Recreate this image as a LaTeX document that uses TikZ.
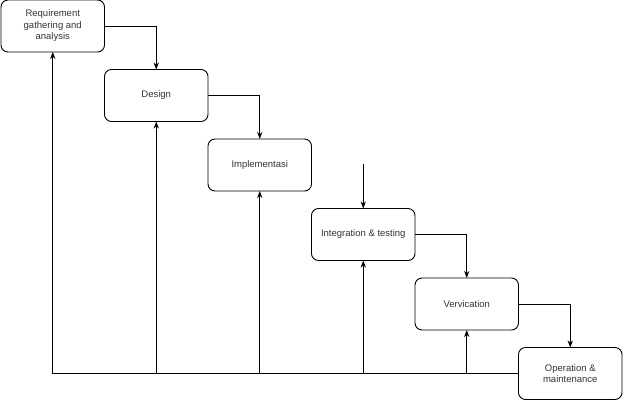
\documentclass[tikz,border=0pt]{standalone}
\usepackage{fontspec}
\setmainfont{Liberation Sans}
\usetikzlibrary{arrows.meta,positioning}

\begin{document}
\begin{tikzpicture}[>=Stealth, x=1pt, y=1pt,
    phase/.style={draw, line width=0.9pt, rounded corners=7pt, outer sep=0pt,
      minimum width=103.5pt, minimum height=52pt, inner sep=2pt,
      align=center, text=black!80, font=\fontsize{9.5}{11.5}\selectfont},
    flow/.style={->, line width=0.9pt}]
    \useasboundingbox (0,0) rectangle (624,-400);

    % phases, stepping down to the right
    \node[phase, anchor=north west] (req) at (1,0) {Requirement\\gathering and\\analysis};
    \node[phase, below right=17.5pt and 0pt of req] (des) {Design};
    \node[phase, below right=17.5pt and 0pt of des] (imp) {Implementasi};
    \node[phase, below right=17.5pt and 0pt of imp] (int) {Integration \& testing};
    \node[phase, below right=17.5pt and 0pt of int] (ver) {Vervication};
    \node[phase, below right=17.5pt and 0pt of ver] (ops) {Operation \&\\maintenance};

    % forward flow
    \draw[flow] (req.east) -| (des.north);
    \draw[flow] (des.east) -| (imp.north);
    \coordinate[above=45pt of int.north] (gap);
    \draw[flow] (gap) -- (int.north);
    \draw[flow] (int.east) -| (ver.north);
    \draw[flow] (ver.east) -| (ops.north);

    % feedback line
    \draw[line width=0.9pt] (ops.west) -- (req.south |- ops.west);
    \foreach \n in {req,des,imp,int,ver}
        \draw[flow] (\n.south |- ops.west) -- (\n.south);
\end{tikzpicture}
\end{document}
